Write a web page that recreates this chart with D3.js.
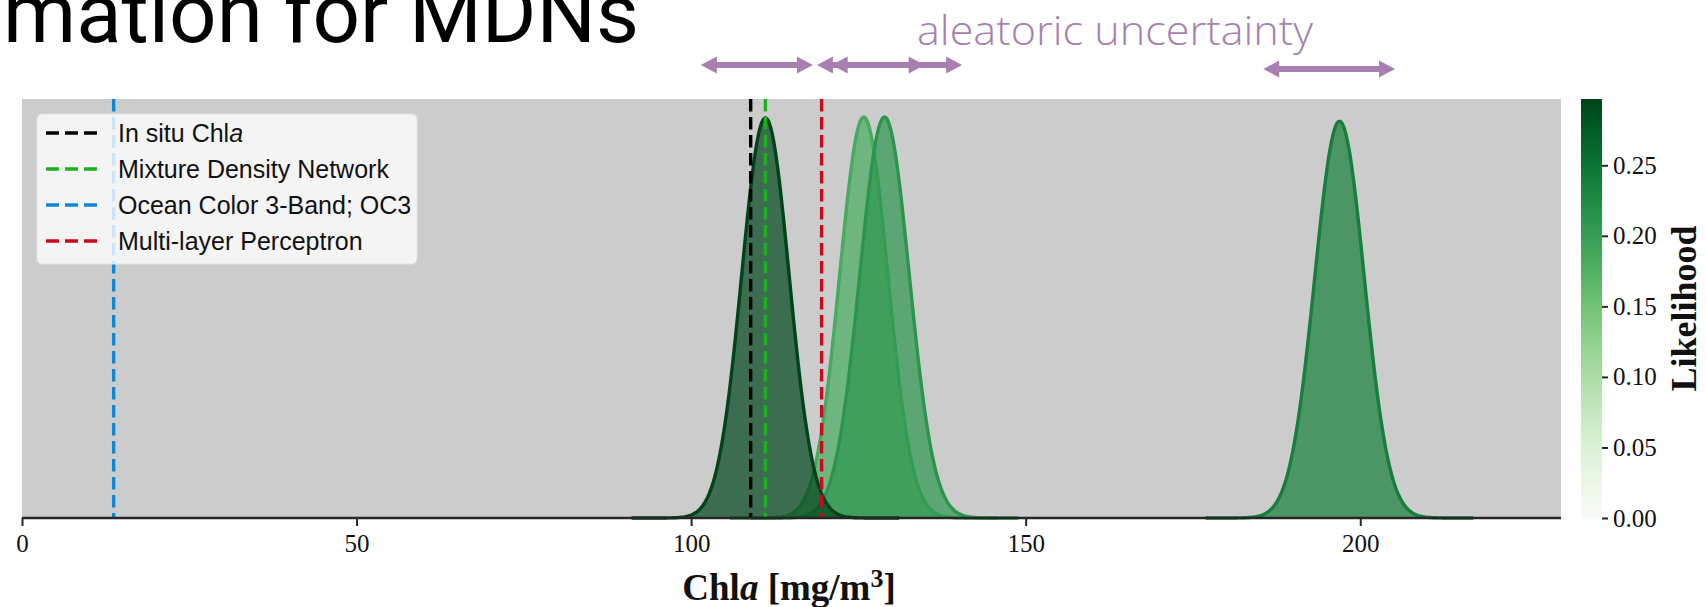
<!DOCTYPE html>
<html>
<head>
<meta charset="utf-8">
<script src="https://cdn.jsdelivr.net/npm/d3@7"></script>
<style>
  html, body { margin: 0; padding: 0; background: #fff; }
  svg { display: block; }
</style>
</head>
<body>
<div id="chart"></div>
<script>
// mixture components, listed in draw order
const compMeans = [125.8, 128.9, 111.1, 196.9];
const compSigmas = [3.6, 3.7, 3.55, 3.7];
const compPeaks = [0.957, 0.957, 0.955, 0.947]; // peak height, share of y range
const compLikelihood = [0.184, 0.211, 0.297, 0.238];
const compHalfSpan = 20;

// reference estimates (vertical dashed lines)
const refNames = ['In situ Chl', 'Mixture Density Network', 'Ocean Color 3-Band; OC3', 'Multi-layer Perceptron'];
const refValues = [108.9, 111.1, 13.7, 119.5];
const refColors = ['#000000', '#1db11d', '#0d88d8', '#c8091e'];

// aleatoric uncertainty arrows, in Chla units
const arrowSpans = [[101.45, 118.2], [118.8, 134.9], [121.0, 140.5], [185.5, 205.2]];

const xTicks = [0, 50, 100, 150, 200];
const cbarTicks = [0, 0.05, 0.1, 0.15, 0.2, 0.25];
const cbarMax = 0.297;

const W = 1706, H = 607;
const plot = { left: 22, right: 1561, top: 99, bottom: 518 };
const cbar = { left: 1581, width: 21 };
const serif = '"Liberation Serif", "Times New Roman", serif';

const svg = d3.select('#chart').append('svg')
  .attr('width', W).attr('height', H);

svg.append('rect').attr('width', W).attr('height', H).attr('fill', '#fff');

// slide heading, cut off at the top-left like the slide it comes from
svg.append('text')
  .attr('x', 3).attr('y', 42)
  .attr('textLength', 636).attr('lengthAdjust', 'spacingAndGlyphs')
  .style('font-family', 'Roboto, "DejaVu Sans", sans-serif')
  .style('font-weight', 400)
  .style('font-size', '84px')
  .attr('fill', '#000')
  .text('mation for MDNs');

const x = d3.scaleLinear().domain([0, 230]).range([plot.left, plot.right]);
const y = d3.scaleLinear().domain([0, 1]).range([plot.bottom, plot.top]);
const color = d3.scaleSequential(d3.interpolateGreens).domain([0, cbarMax]);

// axes background
svg.append('rect')
  .attr('x', plot.left).attr('y', plot.top)
  .attr('width', plot.right - plot.left).attr('height', plot.bottom - plot.top)
  .attr('fill', '#cccccc');

const chartG = svg.append('g');

const area = d3.area().x(d => x(d[0])).y0(y(0)).y1(d => y(d[1]));
const line = d3.line().x(d => x(d[0])).y(d => y(d[1]));

compMeans.forEach((m, i) => {
  const s = compSigmas[i];
  const pts = d3.range(m - compHalfSpan, m + compHalfSpan + 0.001, 0.2)
    .map(v => [v, compPeaks[i] * Math.exp(-0.5 * ((v - m) / s) ** 2)]);
  const c = color(compLikelihood[i]);
  chartG.append('path').datum(pts)
    .attr('d', area)
    .attr('fill', c).attr('fill-opacity', 0.7);
  chartG.append('path').datum(pts)
    .attr('d', line)
    .attr('fill', 'none').attr('stroke', c)
    .attr('stroke-width', 3.4).attr('stroke-linejoin', 'round');
});

// vertical reference lines
chartG.selectAll('.ref')
  .data(refValues)
  .enter().append('line')
  .attr('class', 'ref')
  .attr('x1', d => x(d)).attr('x2', d => x(d))
  .attr('y1', plot.top).attr('y2', plot.bottom)
  .attr('stroke', (d, i) => refColors[i])
  .attr('stroke-width', 3.4)
  .attr('stroke-dasharray', '12.5,5.5');

// x axis
const xAxis = d3.axisBottom(x).tickValues(xTicks).tickSize(8).tickPadding(8);
const xAxisG = svg.append('g')
  .attr('transform', `translate(0,${plot.bottom})`)
  .call(xAxis);
xAxisG.select('.domain')
  .attr('d', `M${plot.left},0H${plot.right}`)
  .attr('stroke', '#262626').attr('stroke-width', 2.5);
xAxisG.selectAll('.tick line').attr('stroke', '#262626').attr('stroke-width', 2);
xAxisG.selectAll('.tick text')
  .style('font-family', serif).style('font-size', '25px').attr('fill', '#111');

// x label
const xLabel = svg.append('text')
  .attr('x', 789).attr('y', 600)
  .attr('text-anchor', 'middle')
  .style('font-family', serif).style('font-weight', 'bold').style('font-size', '37px')
  .attr('fill', '#111');
xLabel.append('tspan').text('Chl');
xLabel.append('tspan').style('font-style', 'italic').text('a');
xLabel.append('tspan').text(' [mg/m');
xLabel.append('tspan').attr('dy', -13).style('font-size', '26px').text('3');
xLabel.append('tspan').attr('dy', 13).text(']');

// legend
const legend = svg.append('g');
legend.append('rect')
  .attr('x', 37).attr('y', 114).attr('width', 380).attr('height', 150)
  .attr('rx', 5)
  .attr('fill', '#fff').attr('fill-opacity', 0.78)
  .attr('stroke', '#e2e2e2').attr('stroke-width', 1);

const rows = legend.selectAll('.row')
  .data(refNames)
  .enter().append('g')
  .attr('class', 'row')
  .attr('transform', (d, i) => `translate(0,${133 + i * 36})`);
rows.append('line')
  .attr('x1', 46).attr('x2', 98)
  .attr('stroke', (d, i) => refColors[i])
  .attr('stroke-width', 3.4)
  .attr('stroke-dasharray', '13,6');
const rowText = rows.append('text')
  .attr('x', 118).attr('y', 9)
  .style('font-family', '"Liberation Sans", Arial, sans-serif')
  .style('font-size', '25px')
  .attr('fill', '#111');
rowText.append('tspan').text(d => d);
rowText.filter((d, i) => i === 0)
  .append('tspan').style('font-style', 'italic').text('a');

// colorbar
const defs = svg.append('defs');
const grad = defs.append('linearGradient')
  .attr('id', 'greens').attr('x1', 0).attr('x2', 0).attr('y1', 1).attr('y2', 0);
d3.range(0, 1.0001, 0.05).forEach(t => {
  grad.append('stop').attr('offset', t).attr('stop-color', d3.interpolateGreens(t));
});
svg.append('rect')
  .attr('x', cbar.left).attr('y', plot.top)
  .attr('width', cbar.width).attr('height', plot.bottom - plot.top)
  .attr('fill', 'url(#greens)');

const cy = d3.scaleLinear().domain([0, cbarMax]).range([plot.bottom, plot.top]);
const cAxisG = svg.append('g')
  .attr('transform', `translate(${cbar.left + cbar.width},0)`)
  .call(d3.axisRight(cy).tickValues(cbarTicks).tickFormat(d3.format('.2f')).tickSize(6).tickPadding(5));
cAxisG.select('.domain').remove();
cAxisG.selectAll('.tick line').attr('stroke', '#262626').attr('stroke-width', 2);
cAxisG.selectAll('.tick text')
  .style('font-family', serif).style('font-size', '25px').attr('fill', '#111');

svg.append('text')
  .attr('transform', `translate(1696,${(plot.top + plot.bottom) / 2}) rotate(-90)`)
  .attr('text-anchor', 'middle')
  .style('font-family', serif).style('font-weight', 'bold').style('font-size', '36px')
  .attr('fill', '#111')
  .text('Likelihood');

// aleatoric uncertainty annotation
const purple = '#a77fb0';
svg.append('text')
  .attr('x', 917).attr('y', 45)
  .attr('textLength', 396).attr('lengthAdjust', 'spacingAndGlyphs')
  .style('font-family', '"Open Sans", Lato, sans-serif')
  .style('font-weight', 300)
  .style('font-size', '41px')
  .attr('fill', purple)
  .text('aleatoric uncertainty');

const headLen = 16, headHalf = 8.5, shaft = 3;
svg.selectAll('.arrow')
  .data(arrowSpans)
  .enter().append('path')
  .attr('class', 'arrow')
  .attr('fill', purple)
  .attr('d', (d, i) => {
    const a = x(d[0]), b = x(d[1]);
    const yc = i < 3 ? 65 : 69;
    return `M${a},${yc}L${a + headLen},${yc - headHalf}L${a + headLen},${yc - shaft}` +
      `L${b - headLen},${yc - shaft}L${b - headLen},${yc - headHalf}L${b},${yc}` +
      `L${b - headLen},${yc + headHalf}L${b - headLen},${yc + shaft}` +
      `L${a + headLen},${yc + shaft}L${a + headLen},${yc + headHalf}Z`;
  });
</script>
</body>
</html>
